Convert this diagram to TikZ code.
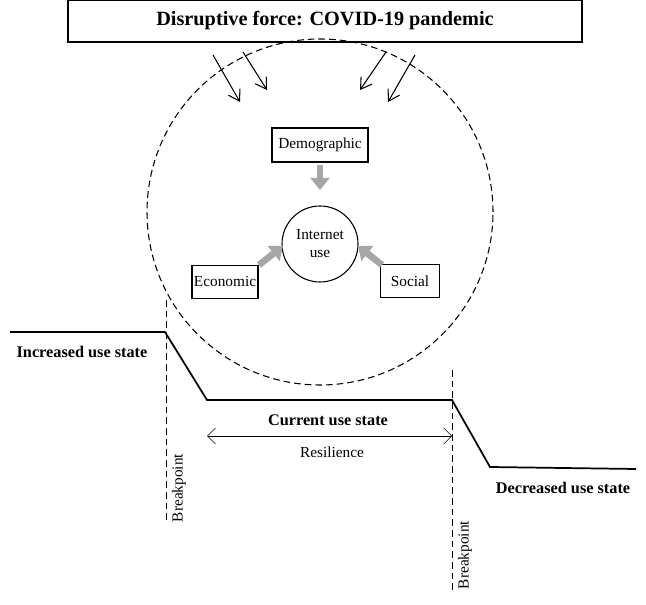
\documentclass[tikz,border=0pt]{standalone}
\usepackage{fontspec}
\setmainfont{Liberation Serif}
\usetikzlibrary{arrows.meta}
\begin{document}
\begin{tikzpicture}[x=0.75pt,y=-0.75pt,
  sm/.style={font=\fontsize{11.5}{13.5}\selectfont},
  lbl/.style={draw,thick,inner sep=0pt,sm},
  bld/.style={font=\bfseries\fontsize{12.2}{14}\selectfont},
  gray arrow/.style={draw=gray!70,line width=5pt,-{Triangle[length=9pt,width=14pt]}},
  blk/.style={thick,-{Straight Barb[length=8pt,width=10pt]}},
  dsh/.style={dash pattern=on 5pt off 3pt}]
\useasboundingbox (0,0) rectangle (646,605);
\node[draw,thick,minimum width=514*0.75pt,minimum height=42*0.75pt,font=\bfseries\fontsize{15.2}{18}\selectfont] (title) at (325,21) {Disruptive force: COVID-19 pandemic};
\node[draw,thick,dsh,circle,minimum size=346*0.75pt] (big) at (320,212) {};
\coordinate (a1) at (213,55); \coordinate (b1) at (240,102);
\coordinate (a2) at (243,52); \coordinate (b2) at (267,90);
\coordinate (a3) at (386,52); \coordinate (b3) at (360,90);
\coordinate (a4) at (415,55); \coordinate (b4) at (388,102);
\foreach \i in {1,...,4} \draw[blk] (a\i) -- (b\i);
\node[lbl,minimum width=96*0.75pt,minimum height=34*0.75pt] (demo) at (320,145) {Demographic};
\node[draw,thick,circle,minimum size=76*0.75pt,align=center,sm] (net) at (320,244) {Internet\\use};
\node[lbl,minimum width=66*0.75pt,minimum height=33*0.75pt] (eco) at (225,282) {Economic};
\node[lbl,minimum width=59*0.75pt,minimum height=33*0.75pt] (soc) at (410,281) {Social};
\coordinate (g1s) at (320,165); \coordinate (g1e) at (320,190);
\coordinate (g2s) at (259,265); \coordinate (g2e) at (283,246);
\coordinate (g3s) at (382,265); \coordinate (g3e) at (358,246);
\draw[gray arrow] (g1s) -- (g1e);
\draw[gray arrow] (g2s) -- (g2e);
\draw[gray arrow] (g3s) -- (g3e);
\coordinate (p0) at (10,332); \coordinate (p1) at (165,332); \coordinate (p2) at (207,400);
\coordinate (p3) at (452,400); \coordinate (p4) at (490,467); \coordinate (p5) at (636,469);
\draw[line width=1.3pt] (p0)--(p1)--(p2)--(p3)--(p4)--(p5);
\node[bld] (inc) at (82,352) {Increased use state};
\node[bld] (cur) at (328,420) {Current use state};
\node[bld] (dec) at (563,488) {Decreased use state};
\coordinate (r1) at (207,436); \coordinate (r2) at (452,436);
\draw[{Straight Barb[length=6pt]}-{Straight Barb[length=6pt]}] (r1) -- (r2);
\node[sm] (res) at (332,452) {Resilience};
\coordinate (v1a) at (166,300); \coordinate (v1b) at (166,520);
\coordinate (v2a) at (452,370); \coordinate (v2b) at (452,590);
\draw[dsh] (v1a) -- (v1b);
\draw[dsh] (v2a) -- (v2b);
\node[rotate=90,sm] (bp1) at (179,488) {Breakpoint};
\node[rotate=90,sm] (bp2) at (465,555) {Breakpoint};
\end{tikzpicture}
\end{document}
